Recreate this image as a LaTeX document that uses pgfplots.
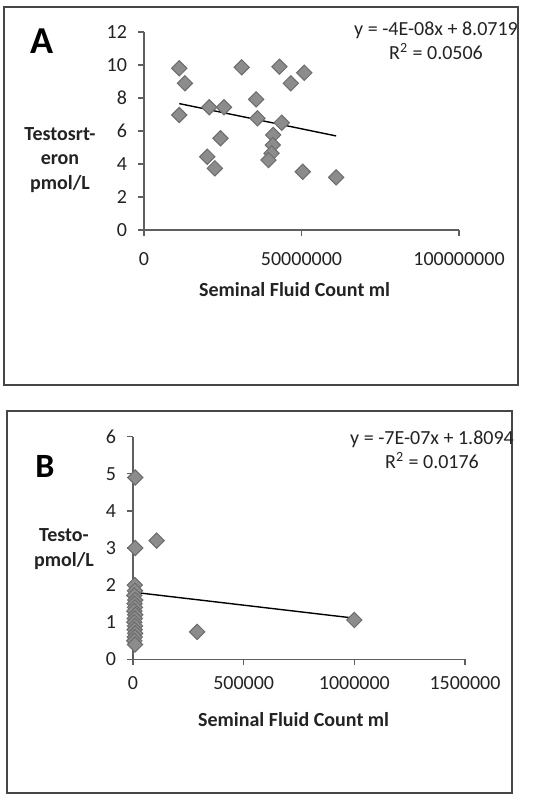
\documentclass[border=0pt]{standalone}
\usepackage{pgfplots}
\pgfplotsset{compat=1.18}
\usepackage{fontspec}
\setmainfont{Carlito}

\definecolor{markfill}{RGB}{140,140,140}
\definecolor{markedge}{RGB}{108,108,108}
\definecolor{axisgray}{RGB}{95,95,95}
\definecolor{framegray}{RGB}{70,70,70}
\definecolor{txt}{RGB}{35,35,35}

% Panel A: testosterone vs. seminal fluid count
\pgfplotstableread{
x y
11.2e6 9.80
13.0e6 8.89
11.2e6 6.97
20.7e6 7.44
25.4e6 7.44
24.3e6 5.56
20.1e6 4.44
22.5e6 3.74
31.0e6 9.86
35.6e6 7.92
36.0e6 6.77
43.0e6 9.90
46.6e6 8.89
50.9e6 9.53
43.7e6 6.50
41.0e6 5.76
40.9e6 5.15
40.5e6 4.65
39.5e6 4.24
50.4e6 3.53
61.0e6 3.19
}\dataA

% Panel B: testosterone vs. seminal fluid count (low counts)
\pgfplotstableread{
x y
10000 4.90
10000 3.00
107000 3.20
8000 2.00
9000 1.85
6000 1.72
10000 1.60
7000 1.50
9000 1.40
6000 1.30
10000 1.20
8000 1.10
6000 1.00
9000 0.90
7000 0.80
10000 0.70
8000 0.60
6000 0.50
9000 0.40
290000 0.74
1000000 1.06
}\dataB

\pgfplotsset{
  panel/.style={
    scale only axis, clip=false,
    axis x line*=bottom, axis y line*=left,
    axis line style={axisgray, line width=0.6pt},
    tick style={axisgray, line width=0.6pt},
    tick align=outside, major tick length=3pt,
    xtick pos=bottom, ytick pos=left,
    scaled x ticks=false, scaled y ticks=false,
    x tick label style={font=\fontsize{10}{12}\selectfont, text=txt},
    y tick label style={font=\fontsize{10}{12}\selectfont, text=txt, xshift=-2pt},
  },
  diam/.style={only marks, mark=square*, mark size=2.7pt,
    mark options={rotate=45, fill=markfill, draw=markedge, line width=0.5pt}},
  trend/.style={black, line width=0.7pt, no marks},
}

\begin{document}
\begin{tikzpicture}
\path[fill=white] (0,0) rectangle (266.5pt,-400.5pt);

% panel frames
\draw[framegray, line width=0.8pt] (2pt,-3.5pt) rectangle (259pt,-192.5pt);
\draw[framegray, line width=0.8pt] (3.5pt,-205.5pt) rectangle (256pt,-396.5pt);

% ---------------- Panel A ----------------
\begin{axis}[panel,
  at={(72pt,-115pt)}, anchor=south west,
  width=157.5pt, height=99pt,
  xmin=0, xmax=100000000, ymin=0, ymax=12,
  xtick={0,50000000,100000000},
  xticklabels={0,50000000,100000000},
  ytick={0,2,4,6,8,10,12},
  yticklabels={0,2,4,6,8,10,12},
  x tick label style={yshift=-4.5pt},
]
\addplot[diam] table[x=x, y=y] {\dataA};
\addplot[trend] coordinates {(11.2e6,7.66) (61.0e6,5.70)};
\end{axis}

\node[font=\fontsize{19}{22}\selectfont\bfseries, text=black] at (21pt,-20.5pt) {A};
\node[font=\fontsize{10}{12.25}\selectfont\bfseries, text=txt, align=center] at (30pt,-80pt) {Testosrt-\\eron\\pmol/L};
\node[font=\fontsize{10}{12}\selectfont\bfseries, text=txt] at (147.3pt,-145pt) {Seminal Fluid Count ml};
\node[font=\fontsize{10}{12}\selectfont, text=txt, align=center] at (218pt,-20.5pt) {y = -4E-08x + 8.0719\\R\textsuperscript{2} = 0.0506};

% ---------------- Panel B ----------------
\begin{axis}[panel,
  at={(66.5pt,-329.65pt)}, anchor=south west,
  width=166pt, height=111.3pt,
  xmin=0, xmax=1500000, ymin=0, ymax=6,
  xtick={0,500000,1000000,1500000},
  xticklabels={0,500000,1000000,1500000},
  ytick={0,1,2,3,4,5,6},
  yticklabels={0,1,2,3,4,5,6},
  x tick label style={yshift=-2pt},
]
\addplot[diam] table[x=x, y=y] {\dataB};
\addplot[trend] coordinates {(6000,1.8052) (1000000,1.1094)};
\end{axis}

\node[font=\fontsize{17}{20}\selectfont\bfseries, text=black] at (22.5pt,-233pt) {B};
\node[font=\fontsize{10}{12.5}\selectfont\bfseries, text=txt, align=center] at (32pt,-274.5pt) {Testo-\\pmol/L};
\node[font=\fontsize{10}{12}\selectfont\bfseries, text=txt] at (146.8pt,-360pt) {Seminal Fluid Count ml};
\node[font=\fontsize{10}{12}\selectfont, text=txt, align=center] at (216pt,-225pt) {y = -7E-07x + 1.8094\\R\textsuperscript{2} = 0.0176};
\end{tikzpicture}
\end{document}
